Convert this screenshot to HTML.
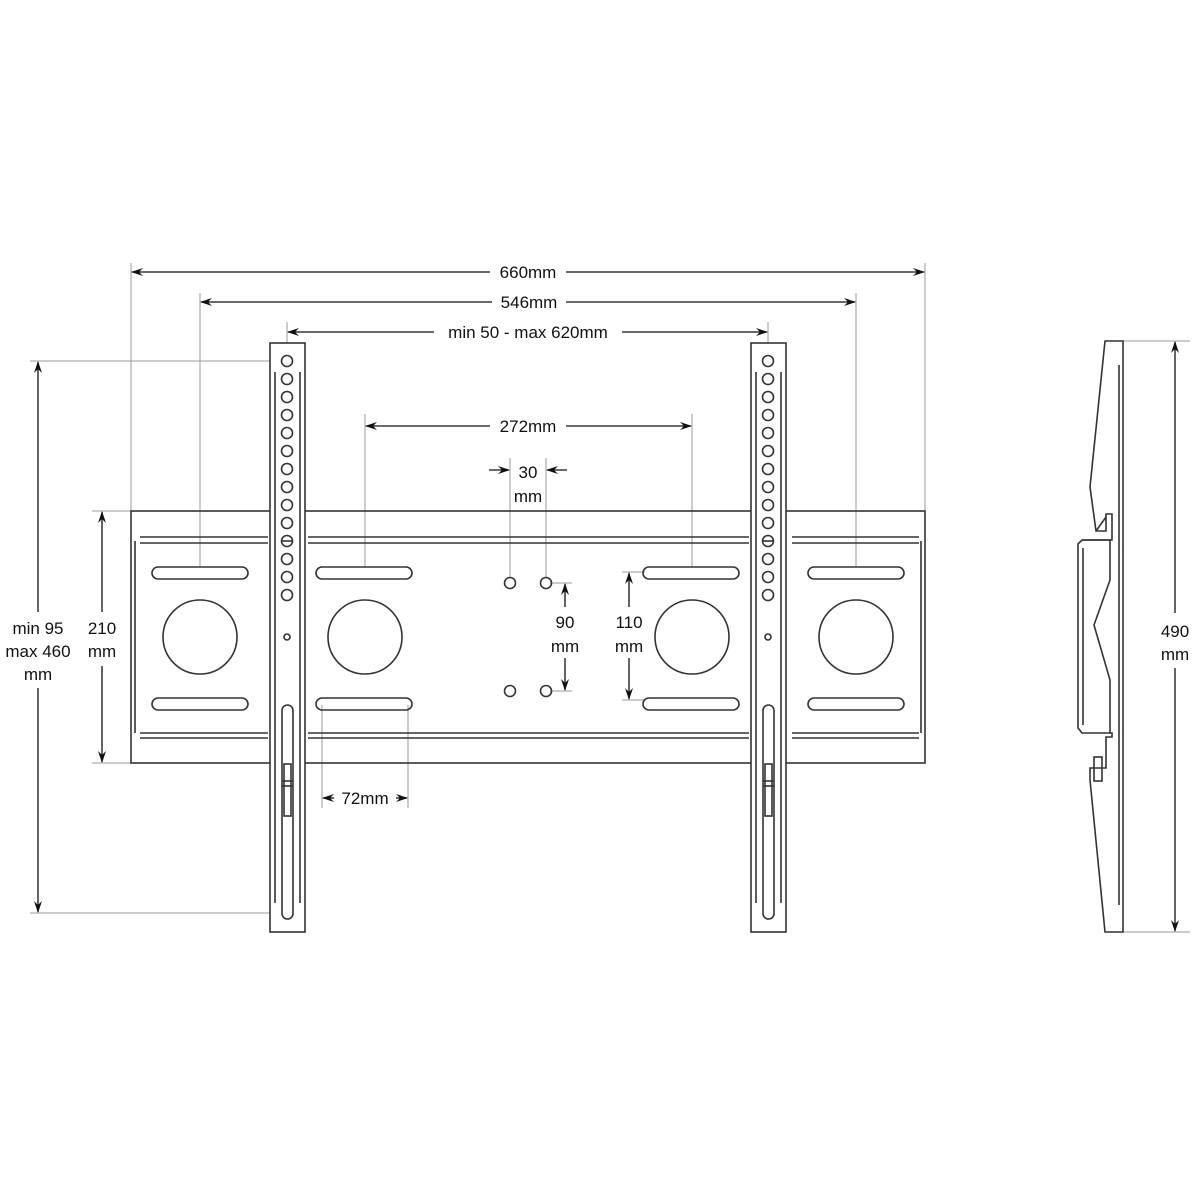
<!DOCTYPE html>
<html><head><meta charset="utf-8"><style>
html,body{margin:0;padding:0;background:#fff}
svg{display:block}
text{font-family:"Liberation Sans",sans-serif;font-size:17px;fill:#111}
</style></head><body>
<svg width="1200" height="1200" viewBox="0 0 1200 1200" xmlns="http://www.w3.org/2000/svg">
<defs>
<marker id="a" markerWidth="12" markerHeight="8" refX="11" refY="4" orient="auto-start-reverse" markerUnits="userSpaceOnUse">
<path d="M0,0 L12,4 L0,8 L4,4 Z" fill="#111"/></marker>
</defs>
<g stroke="#999" stroke-width="1" fill="none">
<line x1="131" y1="263" x2="131" y2="511"/>
<line x1="925" y1="263" x2="925" y2="511"/>
<line x1="200" y1="293" x2="200" y2="567"/>
<line x1="856" y1="293" x2="856" y2="567"/>
<line x1="287" y1="322" x2="287" y2="361"/>
<line x1="768" y1="322" x2="768" y2="361"/>
<line x1="365" y1="414" x2="365" y2="567"/>
<line x1="692" y1="414" x2="692" y2="567"/>
<line x1="510" y1="458" x2="510" y2="577"/>
<line x1="546" y1="458" x2="546" y2="577"/>
<line x1="30" y1="361" x2="282" y2="361"/>
<line x1="30" y1="913" x2="282" y2="913"/>
<line x1="92" y1="511" x2="131" y2="511"/>
<line x1="92" y1="763" x2="131" y2="763"/>
<line x1="322" y1="705" x2="322" y2="808"/>
<line x1="408" y1="705" x2="408" y2="808"/>
<line x1="550" y1="583" x2="572" y2="583"/>
<line x1="550" y1="691" x2="572" y2="691"/>
<line x1="622" y1="572" x2="645" y2="572"/>
<line x1="622" y1="700" x2="645" y2="700"/>
<line x1="1123" y1="341" x2="1190" y2="341"/>
<line x1="1123" y1="932" x2="1190" y2="932"/>
</g>
<g stroke="#333" stroke-width="1.6" fill="none">
<rect x="131" y="511" width="794" height="252"/>
<line x1="140" y1="537" x2="268" y2="537"/><line x1="140" y1="543" x2="268" y2="543"/>
<line x1="140" y1="733" x2="268" y2="733"/><line x1="140" y1="738" x2="268" y2="738"/>
<line x1="308" y1="537" x2="749" y2="537"/><line x1="308" y1="543" x2="749" y2="543"/>
<line x1="308" y1="733" x2="749" y2="733"/><line x1="308" y1="738" x2="749" y2="738"/>
<line x1="792" y1="537" x2="919" y2="537"/><line x1="792" y1="543" x2="919" y2="543"/>
<line x1="792" y1="733" x2="919" y2="733"/><line x1="792" y1="738" x2="919" y2="738"/>
<line x1="135" y1="541" x2="135" y2="733"/><line x1="921" y1="541" x2="921" y2="733"/>
<rect x="152" y="567" width="96" height="12" rx="6"/><rect x="152" y="698" width="96" height="12" rx="6"/>
<rect x="316" y="567" width="96" height="12" rx="6"/><rect x="316" y="698" width="96" height="12" rx="6"/>
<rect x="643" y="567" width="96" height="12" rx="6"/><rect x="643" y="698" width="96" height="12" rx="6"/>
<rect x="808" y="567" width="96" height="12" rx="6"/><rect x="808" y="698" width="96" height="12" rx="6"/>
<circle cx="200" cy="637" r="37"/><circle cx="365" cy="637" r="37"/>
<circle cx="692" cy="637" r="37"/><circle cx="856" cy="637" r="37"/>
<circle cx="510" cy="583" r="5.5"/><circle cx="546" cy="583" r="5.5"/>
<circle cx="510" cy="691" r="5.5"/><circle cx="546" cy="691" r="5.5"/>
<g id="rail">
<rect x="270" y="343" width="35" height="589" fill="#fff"/>
<line x1="275" y1="372" x2="275" y2="903"/><line x1="300" y1="372" x2="300" y2="903"/>
<circle cx="287" cy="361" r="5.5"/><circle cx="287" cy="379" r="5.5"/><circle cx="287" cy="397" r="5.5"/>
<circle cx="287" cy="415" r="5.5"/><circle cx="287" cy="433" r="5.5"/><circle cx="287" cy="451" r="5.5"/>
<circle cx="287" cy="469" r="5.5"/><circle cx="287" cy="487" r="5.5"/><circle cx="287" cy="505" r="5.5"/>
<circle cx="287" cy="523" r="5.5"/><circle cx="287" cy="541" r="5.5"/><circle cx="287" cy="559" r="5.5"/>
<circle cx="287" cy="577" r="5.5"/><circle cx="287" cy="595" r="5.5"/>
<line x1="282" y1="541" x2="292" y2="541"/>
<circle cx="287" cy="637" r="3"/>
<rect x="282" y="705" width="11" height="214" rx="5.5"/>
<rect x="284" y="764" width="7" height="52"/>
<line x1="282" y1="781" x2="293" y2="781"/><line x1="282" y1="786" x2="293" y2="786"/>
</g>
<use href="#rail" x="481"/>
<path d="M1105,341 L1123,341 L1123,932 L1105,932 L1090,780 L1090,768 L1106,768 L1106,737 L1112,737 L1112,733 L1082,733 L1078,728 L1078,544 L1082,540 L1112,540 L1112,514 L1106,514 L1106,531 L1096,531 L1090,487 Z"/>
<line x1="1119" y1="365" x2="1119" y2="905"/>
<line x1="1083" y1="548" x2="1083" y2="725"/>
<path d="M1082,540 L1110,540 L1110,580 L1094,625 L1110,680 L1110,733"/>
<line x1="1096" y1="531" x2="1106" y2="517"/>
<rect x="1094" y="757" width="8" height="24"/>
</g>
<g stroke="#111" stroke-width="1.3" fill="none">
<line x1="132" y1="272" x2="490" y2="272" marker-start="url(#a)"/><line x1="566" y1="272" x2="924" y2="272" marker-end="url(#a)"/>
<line x1="201" y1="302" x2="492" y2="302" marker-start="url(#a)"/><line x1="566" y1="302" x2="855" y2="302" marker-end="url(#a)"/>
<line x1="288" y1="332" x2="434" y2="332" marker-start="url(#a)"/><line x1="622" y1="332" x2="767" y2="332" marker-end="url(#a)"/>
<line x1="366" y1="426" x2="490" y2="426" marker-start="url(#a)"/><line x1="566" y1="426" x2="691" y2="426" marker-end="url(#a)"/>
<line x1="489" y1="470" x2="509" y2="470" marker-end="url(#a)"/><line x1="567" y1="470" x2="547" y2="470" marker-end="url(#a)"/>
<line x1="565" y1="584" x2="565" y2="607" marker-start="url(#a)"/><line x1="565" y1="658" x2="565" y2="690" marker-end="url(#a)"/>
<line x1="629" y1="573" x2="629" y2="607" marker-start="url(#a)"/><line x1="629" y1="658" x2="629" y2="699" marker-end="url(#a)"/>
<line x1="102" y1="512" x2="102" y2="612" marker-start="url(#a)"/><line x1="102" y1="666" x2="102" y2="762" marker-end="url(#a)"/>
<line x1="38" y1="362" x2="38" y2="612" marker-start="url(#a)"/><line x1="38" y1="688" x2="38" y2="912" marker-end="url(#a)"/>
<line x1="323" y1="798" x2="334" y2="798" marker-start="url(#a)"/><line x1="396" y1="798" x2="407" y2="798" marker-end="url(#a)"/>
<line x1="1175" y1="342" x2="1175" y2="613" marker-start="url(#a)"/><line x1="1175" y1="668" x2="1175" y2="931" marker-end="url(#a)"/>
</g>
<g text-anchor="middle">
<text x="528" y="278">660mm</text>
<text x="529" y="308">546mm</text>
<text x="528" y="338">min 50 - max 620mm</text>
<text x="528" y="432">272mm</text>
<text x="528" y="478">30</text><text x="528" y="502">mm</text>
<text x="565" y="628">90</text><text x="565" y="652">mm</text>
<text x="629" y="628">110</text><text x="629" y="652">mm</text>
<text x="102" y="634">210</text><text x="102" y="657">mm</text>
<text x="38" y="634">min 95</text><text x="38" y="657">max 460</text><text x="38" y="680">mm</text>
<text x="365" y="804">72mm</text>
<text x="1175" y="637">490</text><text x="1175" y="660">mm</text>
</g>
</svg>
</body></html>
